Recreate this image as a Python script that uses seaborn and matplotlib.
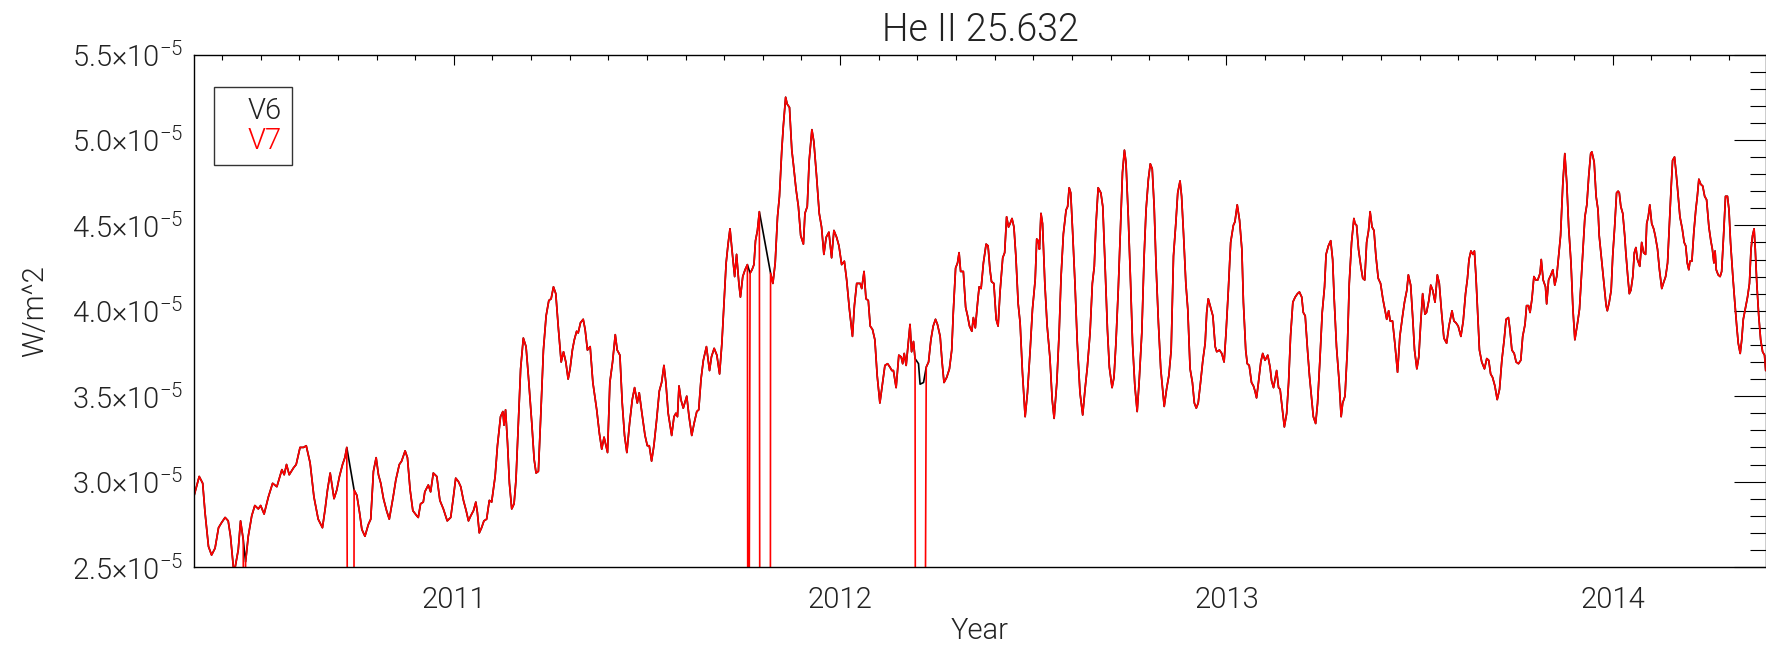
import numpy as np
import pandas as pd
import matplotlib
matplotlib.use("Agg")
import matplotlib.pyplot as plt
import seaborn as sns
from matplotlib.ticker import MultipleLocator, FuncFormatter

# ---------------- data ----------------
# decimal year and He II 25.632 irradiance in units of 1e-5 W/m^2 (V6)
years = [
    2010.328, 2010.341, 2010.350, 2010.356, 2010.365, 2010.373, 2010.382, 2010.391, 2010.399, 2010.408,
    2010.416, 2010.422, 2010.431, 2010.442, 2010.448, 2010.455, 2010.461, 2010.468, 2010.477, 2010.485,
    2010.494, 2010.500, 2010.509, 2010.520, 2010.531, 2010.542, 2010.555, 2010.561, 2010.567, 2010.574,
    2010.585, 2010.592, 2010.602, 2010.611, 2010.618, 2010.628, 2010.638, 2010.649, 2010.660, 2010.667,
    2010.673, 2010.680, 2010.684, 2010.690, 2010.697, 2010.704, 2010.712, 2010.718, 2010.723, 2010.742,
    2010.749, 2010.756, 2010.762, 2010.770, 2010.779, 2010.785, 2010.792, 2010.799, 2010.805, 2010.811,
    2010.818, 2010.826, 2010.833, 2010.843, 2010.850, 2010.859, 2010.865, 2010.874, 2010.880, 2010.887,
    2010.894, 2010.904, 2010.908, 2010.914, 2010.921, 2010.925, 2010.934, 2010.940, 2010.947, 2010.956,
    2010.964, 2010.973, 2010.983, 2010.992, 2010.999, 2011.005, 2011.012, 2011.018, 2011.025, 2011.032,
    2011.038, 2011.044, 2011.051, 2011.057, 2011.061, 2011.066, 2011.072, 2011.078, 2011.085, 2011.092,
    2011.098, 2011.107, 2011.113, 2011.121, 2011.127, 2011.130, 2011.134, 2011.139, 2011.144, 2011.150,
    2011.156, 2011.161, 2011.167, 2011.173, 2011.180, 2011.187, 2011.193, 2011.202, 2011.208, 2011.213,
    2011.219, 2011.225, 2011.232, 2011.239, 2011.246, 2011.252, 2011.258, 2011.264, 2011.271, 2011.278,
    2011.284, 2011.290, 2011.296, 2011.301, 2011.307, 2011.312, 2011.318, 2011.322, 2011.328, 2011.335,
    2011.340, 2011.346, 2011.353, 2011.360, 2011.370, 2011.377, 2011.383, 2011.389, 2011.398, 2011.404,
    2011.411, 2011.418, 2011.423, 2011.430, 2011.436, 2011.442, 2011.448, 2011.455, 2011.462, 2011.468,
    2011.475, 2011.480, 2011.487, 2011.495, 2011.501, 2011.506, 2011.512, 2011.518, 2011.525, 2011.532,
    2011.538, 2011.544, 2011.549, 2011.555, 2011.564, 2011.570, 2011.575, 2011.579, 2011.583, 2011.588,
    2011.594, 2011.603, 2011.609, 2011.616, 2011.622, 2011.629, 2011.634, 2011.640, 2011.646, 2011.654,
    2011.662, 2011.667, 2011.674, 2011.681, 2011.688, 2011.694, 2011.700, 2011.705, 2011.710, 2011.715,
    2011.720, 2011.727, 2011.732, 2011.738, 2011.742, 2011.748, 2011.754, 2011.760, 2011.767, 2011.772,
    2011.777, 2011.781, 2011.786, 2011.791, 2011.820, 2011.826, 2011.832, 2011.838, 2011.843, 2011.849,
    2011.853, 2011.859, 2011.863, 2011.869, 2011.875, 2011.879, 2011.886, 2011.892, 2011.898, 2011.905,
    2011.909, 2011.915, 2011.920, 2011.927, 2011.932, 2011.939, 2011.946, 2011.952, 2011.958, 2011.964,
    2011.971, 2011.978, 2011.984, 2011.991, 2011.997, 2012.004, 2012.011, 2012.017, 2012.024, 2012.032,
    2012.037, 2012.043, 2012.052, 2012.056, 2012.062, 2012.067, 2012.073, 2012.078, 2012.084, 2012.090,
    2012.096, 2012.103, 2012.110, 2012.116, 2012.123, 2012.129, 2012.134, 2012.138, 2012.145, 2012.152,
    2012.158, 2012.162, 2012.166, 2012.171, 2012.177, 2012.181, 2012.185, 2012.190, 2012.194, 2012.203,
    2012.207, 2012.216, 2012.223, 2012.229, 2012.235, 2012.241, 2012.247, 2012.252, 2012.259, 2012.264,
    2012.269, 2012.276, 2012.283, 2012.289, 2012.293, 2012.299, 2012.304, 2012.308, 2012.312, 2012.319,
    2012.325, 2012.330, 2012.335, 2012.341, 2012.345, 2012.350, 2012.356, 2012.360, 2012.365, 2012.371,
    2012.378, 2012.383, 2012.388, 2012.392, 2012.398, 2012.404, 2012.409, 2012.414, 2012.421, 2012.426,
    2012.431, 2012.436, 2012.440, 2012.445, 2012.450, 2012.455, 2012.461, 2012.466, 2012.472, 2012.479,
    2012.485, 2012.492, 2012.498, 2012.505, 2012.509, 2012.513, 2012.516, 2012.520, 2012.524, 2012.530,
    2012.536, 2012.543, 2012.549, 2012.554, 2012.561, 2012.567, 2012.572, 2012.578, 2012.585, 2012.589,
    2012.593, 2012.597, 2012.602, 2012.608, 2012.614, 2012.621, 2012.628, 2012.634, 2012.640, 2012.647,
    2012.653, 2012.658, 2012.662, 2012.668, 2012.675, 2012.680, 2012.686, 2012.692, 2012.697, 2012.704,
    2012.709, 2012.714, 2012.720, 2012.726, 2012.731, 2012.736, 2012.740, 2012.746, 2012.752, 2012.757,
    2012.763, 2012.769, 2012.774, 2012.781, 2012.787, 2012.792, 2012.798, 2012.803, 2012.808, 2012.813,
    2012.818, 2012.824, 2012.830, 2012.835, 2012.839, 2012.845, 2012.851, 2012.857, 2012.863, 2012.869,
    2012.874, 2012.880, 2012.884, 2012.889, 2012.895, 2012.900, 2012.906, 2012.912, 2012.917, 2012.922,
    2012.927, 2012.933, 2012.939, 2012.945, 2012.949, 2012.953, 2012.959, 2012.965, 2012.971, 2012.975,
    2012.982, 2012.988, 2012.994, 2012.999, 2013.005, 2013.011, 2013.018, 2013.022, 2013.028, 2013.034,
    2013.040, 2013.044, 2013.050, 2013.054, 2013.059, 2013.065, 2013.070, 2013.074, 2013.078, 2013.083,
    2013.089, 2013.094, 2013.100, 2013.107, 2013.113, 2013.117, 2013.122, 2013.126, 2013.130, 2013.135,
    2013.139, 2013.145, 2013.150, 2013.156, 2013.161, 2013.166, 2013.172, 2013.178, 2013.184, 2013.189,
    2013.195, 2013.199, 2013.204, 2013.210, 2013.215, 2013.221, 2013.225, 2013.231, 2013.236, 2013.242,
    2013.248, 2013.254, 2013.258, 2013.264, 2013.270, 2013.275, 2013.279, 2013.285, 2013.292, 2013.297,
    2013.301, 2013.307, 2013.313, 2013.318, 2013.324, 2013.330, 2013.333, 2013.337, 2013.342, 2013.348,
    2013.353, 2013.358, 2013.363, 2013.368, 2013.372, 2013.377, 2013.382, 2013.387, 2013.393, 2013.399,
    2013.405, 2013.411, 2013.415, 2013.420, 2013.424, 2013.430, 2013.436, 2013.443, 2013.449, 2013.456,
    2013.461, 2013.467, 2013.471, 2013.477, 2013.482, 2013.487, 2013.493, 2013.498, 2013.503, 2013.508,
    2013.514, 2013.518, 2013.524, 2013.529, 2013.534, 2013.540, 2013.546, 2013.551, 2013.557, 2013.563,
    2013.570, 2013.576, 2013.584, 2013.589, 2013.594, 2013.600, 2013.607, 2013.613, 2013.619, 2013.624,
    2013.628, 2013.633, 2013.638, 2013.642, 2013.646, 2013.650, 2013.655, 2013.661, 2013.668, 2013.674,
    2013.679, 2013.684, 2013.689, 2013.695, 2013.701, 2013.707, 2013.713, 2013.719, 2013.724, 2013.730,
    2013.734, 2013.739, 2013.745, 2013.750, 2013.756, 2013.762, 2013.767, 2013.773, 2013.777, 2013.782,
    2013.786, 2013.791, 2013.796, 2013.801, 2013.806, 2013.812, 2013.815, 2013.820, 2013.826, 2013.829,
    2013.834, 2013.840, 2013.845, 2013.850, 2013.855, 2013.860, 2013.865, 2013.871, 2013.876, 2013.881,
    2013.886, 2013.892, 2013.897, 2013.902, 2013.909, 2013.914, 2013.922, 2013.928, 2013.933, 2013.938,
    2013.943, 2013.946, 2013.952, 2013.957, 2013.962, 2013.965, 2013.972, 2013.977, 2013.983, 2013.986,
    2013.991, 2013.996, 2014.000, 2014.005, 2014.010, 2014.014, 2014.017, 2014.021, 2014.026, 2014.031,
    2014.034, 2014.039, 2014.043, 2014.047, 2014.052, 2014.056, 2014.060, 2014.064, 2014.070, 2014.075,
    2014.080, 2014.085, 2014.088, 2014.092, 2014.096, 2014.101, 2014.106, 2014.110, 2014.116, 2014.121,
    2014.127, 2014.131, 2014.137, 2014.142, 2014.146, 2014.151, 2014.155, 2014.160, 2014.164, 2014.168,
    2014.174, 2014.180, 2014.185, 2014.189, 2014.193, 2014.197, 2014.200, 2014.205, 2014.210, 2014.215,
    2014.219, 2014.223, 2014.228, 2014.233, 2014.238, 2014.243, 2014.249, 2014.254, 2014.258, 2014.262,
    2014.265, 2014.268, 2014.273, 2014.278, 2014.282, 2014.287, 2014.292, 2014.297, 2014.301, 2014.305,
    2014.311, 2014.316, 2014.321, 2014.325, 2014.330, 2014.334, 2014.338, 2014.343, 2014.349, 2014.354,
    2014.358, 2014.362, 2014.366, 2014.369, 2014.373, 2014.378, 2014.383, 2014.388, 2014.393, 2014.396,
]

v6_irradiance_e5 = [
    2.92, 3.03, 2.99, 2.82, 2.62, 2.57, 2.61, 2.73, 2.76, 2.79,
    2.77, 2.68, 2.46, 2.60, 2.77, 2.66, 2.53, 2.68, 2.80, 2.86,
    2.84, 2.86, 2.81, 2.91, 2.99, 2.97, 3.07, 3.04, 3.10, 3.04,
    3.08, 3.10, 3.20, 3.20, 3.21, 3.11, 2.91, 2.78, 2.73, 2.84,
    2.95, 3.05, 2.99, 2.90, 2.95, 3.03, 3.10, 3.14, 3.20, 2.95,
    2.92, 2.82, 2.72, 2.68, 2.75, 2.78, 3.06, 3.14, 3.04, 2.99,
    2.90, 2.83, 2.78, 2.91, 3.01, 3.10, 3.12, 3.18, 3.14, 2.95,
    2.83, 2.80, 2.79, 2.87, 2.88, 2.94, 2.98, 2.94, 3.05, 3.03,
    2.89, 2.84, 2.77, 2.79, 2.91, 3.02, 3.00, 2.97, 2.89, 2.83,
    2.77, 2.80, 2.83, 2.88, 2.82, 2.70, 2.73, 2.77, 2.78, 2.89,
    2.88, 3.03, 3.21, 3.38, 3.41, 3.33, 3.42, 3.23, 2.99, 2.84,
    2.87, 3.01, 3.34, 3.66, 3.84, 3.79, 3.62, 3.34, 3.13, 3.05,
    3.06, 3.38, 3.77, 3.97, 4.06, 4.07, 4.14, 4.10, 3.89, 3.70,
    3.76, 3.70, 3.60, 3.66, 3.77, 3.83, 3.88, 3.87, 3.93, 3.95,
    3.89, 3.77, 3.79, 3.58, 3.42, 3.28, 3.19, 3.26, 3.17, 3.58,
    3.70, 3.86, 3.77, 3.74, 3.46, 3.27, 3.17, 3.34, 3.48, 3.55,
    3.46, 3.52, 3.40, 3.27, 3.21, 3.21, 3.12, 3.21, 3.36, 3.53,
    3.58, 3.68, 3.58, 3.40, 3.27, 3.38, 3.40, 3.38, 3.56, 3.48,
    3.43, 3.50, 3.38, 3.27, 3.34, 3.41, 3.42, 3.60, 3.71, 3.79,
    3.65, 3.73, 3.78, 3.74, 3.63, 3.81, 4.07, 4.28, 4.39, 4.48,
    4.36, 4.20, 4.33, 4.16, 4.08, 4.20, 4.24, 4.27, 4.22, 4.24,
    4.27, 4.41, 4.47, 4.58, 4.22, 4.16, 4.28, 4.55, 4.67, 4.94,
    5.08, 5.25, 5.21, 5.19, 4.94, 4.86, 4.71, 4.61, 4.44, 4.39,
    4.57, 4.61, 4.88, 5.06, 4.99, 4.79, 4.57, 4.49, 4.33, 4.43,
    4.46, 4.31, 4.47, 4.43, 4.38, 4.27, 4.29, 4.18, 4.01, 3.85,
    4.03, 4.16, 4.16, 4.13, 4.23, 4.07, 4.06, 3.91, 3.89, 3.83,
    3.62, 3.46, 3.58, 3.68, 3.69, 3.67, 3.65, 3.65, 3.55, 3.74,
    3.73, 3.69, 3.75, 3.68, 3.82, 3.92, 3.76, 3.82, 3.72, 3.69,
    3.57, 3.58, 3.67, 3.70, 3.83, 3.91, 3.95, 3.92, 3.85, 3.70,
    3.58, 3.61, 3.66, 3.77, 3.99, 4.25, 4.28, 4.34, 4.23, 4.23,
    4.02, 3.97, 3.91, 3.88, 3.96, 3.90, 4.05, 4.14, 4.13, 4.28,
    4.39, 4.38, 4.24, 4.17, 4.16, 3.95, 3.91, 4.11, 4.31, 4.34,
    4.55, 4.49, 4.51, 4.54, 4.49, 4.32, 4.04, 3.93, 3.64, 3.38,
    3.52, 3.77, 4.01, 4.18, 4.42, 4.41, 4.36, 4.57, 4.51, 4.16,
    3.91, 3.73, 3.48, 3.37, 3.58, 3.87, 4.20, 4.45, 4.59, 4.61,
    4.72, 4.69, 4.46, 4.16, 3.81, 3.52, 3.39, 3.54, 3.67, 3.87,
    4.16, 4.26, 4.49, 4.72, 4.69, 4.61, 4.26, 3.89, 3.67, 3.55,
    3.61, 3.81, 4.12, 4.49, 4.81, 4.94, 4.87, 4.55, 4.16, 3.81,
    3.56, 3.41, 3.58, 3.87, 4.32, 4.59, 4.77, 4.86, 4.83, 4.61,
    4.26, 3.93, 3.66, 3.54, 3.44, 3.54, 3.62, 3.77, 4.32, 4.51,
    4.69, 4.76, 4.67, 4.45, 4.16, 4.01, 3.66, 3.58, 3.46, 3.43,
    3.46, 3.58, 3.71, 3.81, 3.99, 4.07, 4.02, 3.97, 3.79, 3.76,
    3.77, 3.75, 3.70, 3.87, 4.12, 4.40, 4.50, 4.52, 4.62, 4.53,
    4.36, 4.05, 3.77, 3.69, 3.68, 3.58, 3.56, 3.53, 3.49, 3.58,
    3.70, 3.75, 3.71, 3.74, 3.67, 3.59, 3.55, 3.60, 3.65, 3.55,
    3.54, 3.42, 3.32, 3.40, 3.58, 3.85, 4.05, 4.08, 4.10, 4.11,
    4.08, 3.99, 3.97, 3.77, 3.62, 3.48, 3.38, 3.34, 3.46, 3.71,
    3.99, 4.14, 4.33, 4.38, 4.41, 4.30, 4.07, 3.79, 3.58, 3.38,
    3.46, 3.50, 3.77, 4.16, 4.40, 4.54, 4.51, 4.50, 4.36, 4.26,
    4.19, 4.18, 4.40, 4.47, 4.58, 4.49, 4.47, 4.32, 4.19, 4.16,
    4.07, 4.00, 3.95, 4.00, 3.94, 3.94, 3.81, 3.64, 3.85, 3.97,
    4.05, 4.12, 4.21, 4.15, 3.97, 3.77, 3.66, 3.73, 3.93, 4.10,
    3.98, 3.99, 4.06, 4.15, 4.12, 4.05, 4.21, 4.16, 3.99, 3.84,
    3.81, 3.91, 4.00, 3.94, 3.93, 3.91, 3.85, 3.94, 4.10, 4.19,
    4.30, 4.35, 4.33, 4.35, 4.20, 4.01, 3.77, 3.70, 3.66, 3.72,
    3.71, 3.63, 3.61, 3.56, 3.48, 3.54, 3.71, 3.83, 3.95, 3.96,
    3.89, 3.77, 3.75, 3.70, 3.69, 3.71, 3.85, 3.92, 4.03, 4.03,
    3.99, 4.07, 4.20, 4.18, 4.18, 4.22, 4.30, 4.18, 4.14, 4.04,
    4.18, 4.21, 4.24, 4.15, 4.20, 4.32, 4.44, 4.75, 4.92, 4.75,
    4.49, 4.28, 4.01, 3.83, 3.93, 4.01, 4.32, 4.55, 4.62, 4.79,
    4.92, 4.93, 4.87, 4.67, 4.59, 4.44, 4.28, 4.16, 4.03, 4.00,
    4.05, 4.12, 4.32, 4.49, 4.69, 4.70, 4.69, 4.61, 4.57, 4.44,
    4.34, 4.20, 4.10, 4.12, 4.20, 4.34, 4.37, 4.30, 4.26, 4.40,
    4.34, 4.33, 4.51, 4.55, 4.62, 4.51, 4.48, 4.44, 4.36, 4.24,
    4.13, 4.16, 4.20, 4.28, 4.47, 4.71, 4.88, 4.90, 4.81, 4.71,
    4.55, 4.48, 4.40, 4.38, 4.28, 4.24, 4.29, 4.29, 4.46, 4.59,
    4.67, 4.77, 4.74, 4.73, 4.67, 4.65, 4.49, 4.41, 4.36, 4.28,
    4.35, 4.24, 4.21, 4.20, 4.23, 4.44, 4.67, 4.67, 4.59, 4.40,
    4.20, 4.05, 3.91, 3.81, 3.75, 3.83, 3.95, 4.01, 4.08, 4.16,
    4.36, 4.44, 4.48, 4.36, 4.16, 3.97, 3.83, 3.76, 3.74, 3.65,
]

# V7 has the same daily values, but its data gaps carry a fill value of zero
v7_gap_starts = [2010.457, 2010.728, 2011.762, 2011.793, 2012.196]
v7_gap_ends = [2010.460, 2010.740, 2011.762, 2011.819, 2012.217]
v7_fill_e5 = 0.0

series_labels = ["V6", "V7"]
series_colors = ["black", "red"]
year_ticks = [2011, 2012, 2013, 2014]
y_ticks_e5 = [2.5, 3.0, 3.5, 4.0, 4.5, 5.0, 5.5]

# ---------------- build tables ----------------
t6 = np.asarray(years, dtype=float)
v6 = np.asarray(v6_irradiance_e5, dtype=float) * 1e-5

inside = np.zeros(t6.size, dtype=bool)
for a, b in zip(v7_gap_starts, v7_gap_ends):
    inside |= (t6 > a) & (t6 < b)
t7 = list(t6[~inside])
v7 = list(v6[~inside])
for a, b in zip(v7_gap_starts, v7_gap_ends):
    for g in sorted(set([a, b])):
        t7.append(g)
        v7.append(v7_fill_e5 * 1e-5)
order = np.argsort(np.asarray(t7), kind="stable")
t7 = np.asarray(t7)[order]
v7 = np.asarray(v7)[order]

df6 = pd.DataFrame({"Year": t6, "Irr": v6})
df7 = pd.DataFrame({"Year": t7, "Irr": v7})

# ---------------- style ----------------
sns.set_style("white")
plt.rcParams["font.family"] = ["Roboto", "DejaVu Sans"]
plt.rcParams["font.weight"] = 300
plt.rcParams["axes.titleweight"] = 300
plt.rcParams["axes.labelweight"] = 300
plt.rcParams["mathtext.fontset"] = "custom"
plt.rcParams["mathtext.rm"] = "Roboto:weight=300"
plt.rcParams["mathtext.it"] = "Roboto:weight=300"
plt.rcParams["mathtext.bf"] = "Roboto"
plt.rcParams["mathtext.fallback"] = "stixsans"
TXT = "#222222"
plt.rcParams["text.color"] = TXT

W, H = 1766, 648
fig = plt.figure(figsize=(W / 100, H / 100), dpi=100)
ax = fig.add_axes([194 / W, 1 - 567 / H, 1572 / W, 512.5 / H])

sns.lineplot(data=df6, x="Year", y="Irr", ax=ax, color=series_colors[0],
             lw=1.2, sort=False, estimator=None, label=series_labels[0])
sns.lineplot(data=df7, x="Year", y="Irr", ax=ax, color=series_colors[1],
             lw=1.2, sort=False, estimator=None, label=series_labels[1])

ax.set_xlim(2010.3275, 2014.3968)
ax.set_ylim(2.5e-5, 5.5e-5)

ax.set_xticks(year_ticks)
ax.set_xticklabels([str(y) for y in year_ticks])
ax.xaxis.set_minor_locator(MultipleLocator(0.1))
ax.set_yticks([v * 1e-5 for v in y_ticks_e5])
ax.yaxis.set_minor_locator(MultipleLocator(0.1e-5))
ax.yaxis.set_major_formatter(FuncFormatter(
    lambda v, p: r"$%.1f{\times}10^{-5}$" % (v * 1e5)))

ax.tick_params(axis="both", which="both", direction="in", top=True,
               right=True, colors="black", labelcolor=TXT, labelsize=21,
               width=0.8)
ax.tick_params(axis="x", which="major", length=7.2, pad=14)
ax.tick_params(axis="x", which="minor", length=3.6)
ax.tick_params(axis="y", which="major", length=23, pad=8)
ax.tick_params(axis="y", which="minor", length=11.5)
for s in ax.spines.values():
    s.set_color("black")
    s.set_linewidth(1.0)

ax.set_title("He II 25.632", fontsize=27, pad=10, color=TXT)
ax.set_xlabel("Year", fontsize=21, labelpad=2, color=TXT)
ax.set_ylabel("W/m^2", fontsize=21, labelpad=16, color=TXT)

leg = ax.legend(loc="upper left", bbox_to_anchor=(0.0127, 0.9366),
                borderaxespad=0, fontsize=21, frameon=True, fancybox=False,
                handlelength=0.5, handletextpad=0.3, borderpad=0.35,
                labelspacing=0.05)
leg.get_frame().set_edgecolor("black")
leg.get_frame().set_linewidth(1.0)
for line, txt, col in zip(leg.get_lines(), leg.get_texts(), series_colors):
    line.set_visible(False)
    txt.set_color(TXT if col == "black" else col)

fig.savefig("out.png", dpi=100, facecolor="white")
